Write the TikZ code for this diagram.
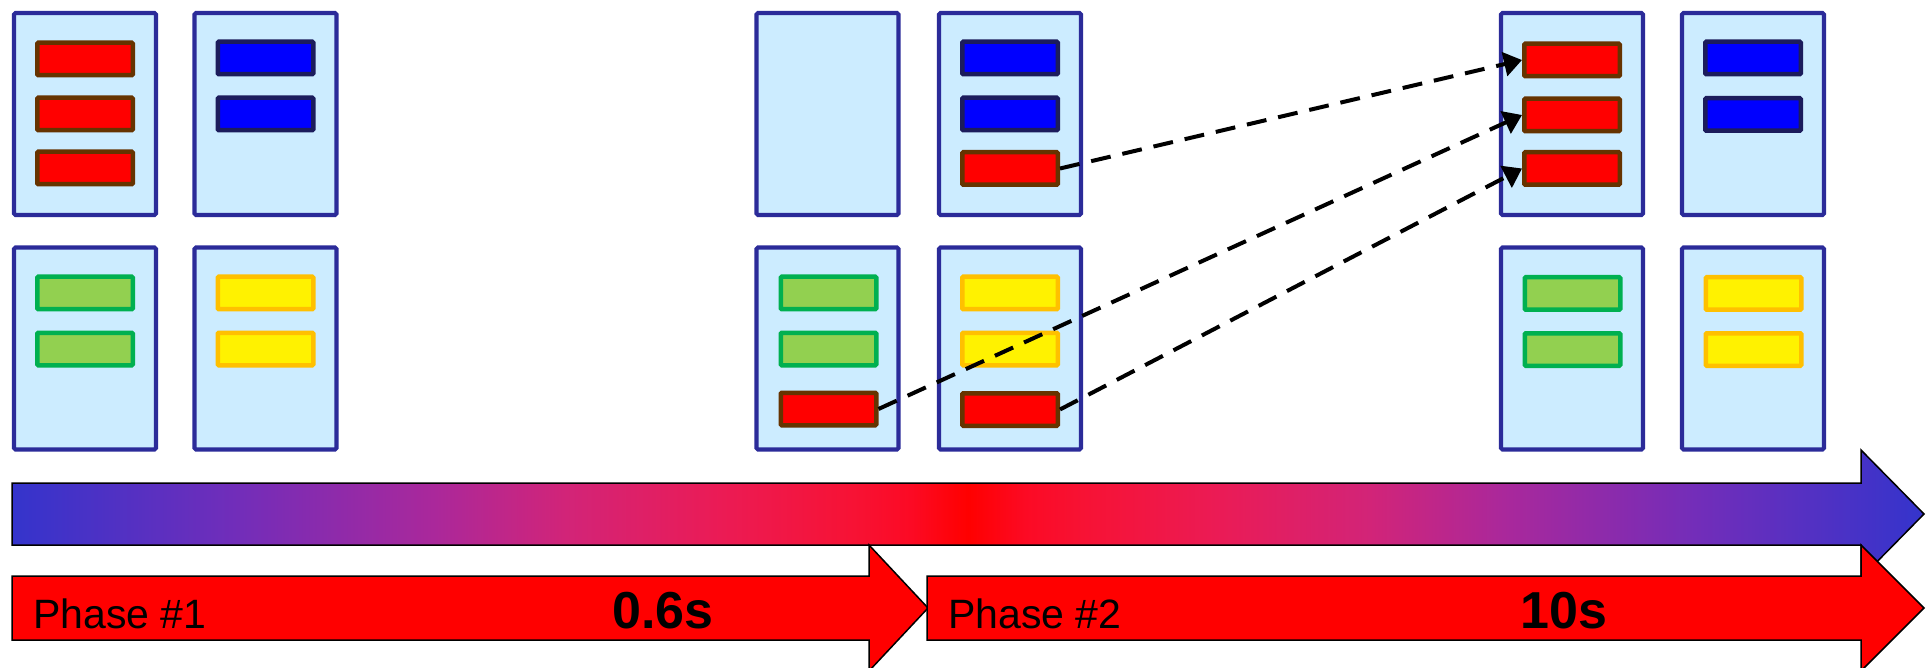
\documentclass[tikz,border=0pt]{standalone}
\usepackage{fontspec}
\setmainfont{Liberation Sans}
\usepackage{tikz}
\usetikzlibrary{arrows.meta}
\definecolor{srvfill}{HTML}{CCECFF}
\definecolor{srvline}{HTML}{2B2B99}
\definecolor{redline}{HTML}{663300}
\definecolor{blueline}{HTML}{1C1C5C}
\definecolor{greenfill}{HTML}{92D050}
\definecolor{greenline}{HTML}{00B050}
\definecolor{yellowline}{HTML}{FFC000}
\definecolor{tlblue}{RGB}{52,52,204}
\definecolor{tlpurple}{RGB}{115,45,185}
\definecolor{tlviolet}{RGB}{170,40,155}
\definecolor{tlmagenta}{RGB}{210,36,120}
\definecolor{tlpink}{RGB}{235,27,85}
\definecolor{tlrose}{RGB}{247,18,52}
\definecolor{tlscarlet}{RGB}{252,10,36}
\pgfdeclarehorizontalshading{timeline}{100bp}{color(0bp)=(tlblue); color(25bp)=(tlblue);
  color(31bp)=(tlpurple); color(36bp)=(tlviolet); color(39.5bp)=(tlmagenta); color(43.5bp)=(tlpink);
  color(47bp)=(tlrose); color(48.5bp)=(tlscarlet); color(50bp)=(red); color(51.5bp)=(tlscarlet);
  color(53bp)=(tlrose); color(56.5bp)=(tlpink); color(60.5bp)=(tlmagenta); color(64bp)=(tlviolet);
  color(69bp)=(tlpurple); color(75bp)=(tlblue); color(100bp)=(tlblue)}

\begin{document}
\begin{tikzpicture}[x=1pt, y=-1pt,
	server/.style={draw=srvline, fill=srvfill, line width=4.2pt, rounded corners=1.5pt, minimum width=142pt, minimum height=202pt, inner sep=0pt},
	job/.style={line width=4.5pt, rounded corners=1pt, minimum width=95.5pt, minimum height=32.5pt, inner sep=0pt},
	redjob/.style={job, draw=redline, fill=red},
	bluejob/.style={job, draw=blueline, fill=blue},
	greenjob/.style={job, draw=greenline, fill=greenfill},
	yellowjob/.style={job, draw=yellowline, fill=yellow},
	migrate/.style={black, line width=4pt, dash pattern=on 20pt off 12pt, -{Triangle[length=18pt, width=24pt]}},
	phasearrow/.style={draw=black, line width=1.5pt, fill=red},
	phasetext/.style={inner sep=0pt, anchor=base west, font=\fontsize{41}{48}\selectfont},
	phasetime/.style={inner sep=0pt, anchor=base west, font=\fontsize{52}{60}\selectfont\bfseries}]
	\useasboundingbox (0,0) rectangle (1930,668);
	% before phase 1
	\node[server] (a1) at (85,114) {};
	\node[server] (a2) at (265.5,114) {};
	\node[server] (a3) at (85,348.5) {};
	\node[server] (a4) at (265.5,348.5) {};
	\foreach \y [count=\i] in {59,114,168} \node[redjob] (a1r\i) at (85,\y) {};
	\foreach \y [count=\i] in {58,114} \node[bluejob] (a2b\i) at (265.5,\y) {};
	\foreach \y [count=\i] in {293,349} \node[greenjob] (a3g\i) at (85,\y) {};
	\foreach \y [count=\i] in {293,349} \node[yellowjob] (a4y\i) at (265.5,\y) {};
	% after phase 1
	\node[server] (b1) at (827.5,114) {};
	\node[server] (b2) at (1010,114) {};
	\node[server] (b3) at (827.5,348.5) {};
	\node[server] (b4) at (1010,348.5) {};
	\foreach \y [count=\i] in {58,114} \node[bluejob] (b2b\i) at (1010,\y) {};
	\node[redjob] (b2r) at (1010,168.5) {};
	\foreach \y [count=\i] in {293,349} \node[greenjob] (b3g\i) at (828.5,\y) {};
	\node[redjob] (b3r) at (828.5,409) {};
	\foreach \y [count=\i] in {293,349} \node[yellowjob] (b4y\i) at (1010,\y) {};
	\node[redjob] (b4r) at (1010,409.5) {};
	% after phase 2
	\node[server] (c1) at (1572,114) {};
	\node[server] (c2) at (1753,114) {};
	\node[server] (c3) at (1572,348.5) {};
	\node[server] (c4) at (1753,348.5) {};
	\foreach \y [count=\i] in {60,115,168.5} \node[redjob] (c1r\i) at (1572,\y) {};
	\foreach \y [count=\i] in {58,114.5} \node[bluejob] (c2b\i) at (1753,\y) {};
	\foreach \y [count=\i] in {293.5,349.5} \node[greenjob] (c3g\i) at (1572.5,\y) {};
	\foreach \y [count=\i] in {293.5,349.5} \node[yellowjob] (c4y\i) at (1753.5,\y) {};
	% migrations
	\draw[migrate] (b2r.east) -- (c1r1.west);
	\draw[migrate] (b3r.east) -- (c1r2.west);
	\draw[migrate] (b4r.east) -- (c1r3.west);
	% time line
	\shadedraw[shading=timeline, draw=black, line width=1.5pt] (12,483) -- (1861,483) -- (1861,450) -- (1924,514) -- (1861,578) -- (1861,545) -- (12,545) -- cycle;
	\draw[phasearrow] (12,576) -- (869,576) -- (869,545) -- (928,608) -- (869,671) -- (869,640) -- (12,640) -- cycle;
	\draw[phasearrow] (927,576) -- (1861,576) -- (1861,545) -- (1924,608) -- (1861,671) -- (1861,640) -- (927,640) -- cycle;
	\node[phasetext] (ph1) at (33,628) {Phase \#1};
	\node[phasetime] (t1) at (612,628) {0.6s};
	\node[phasetext] (ph2) at (948,628) {Phase \#2};
	\node[phasetime] (t2) at (1520,628) {10s};
\end{tikzpicture}
\end{document}
